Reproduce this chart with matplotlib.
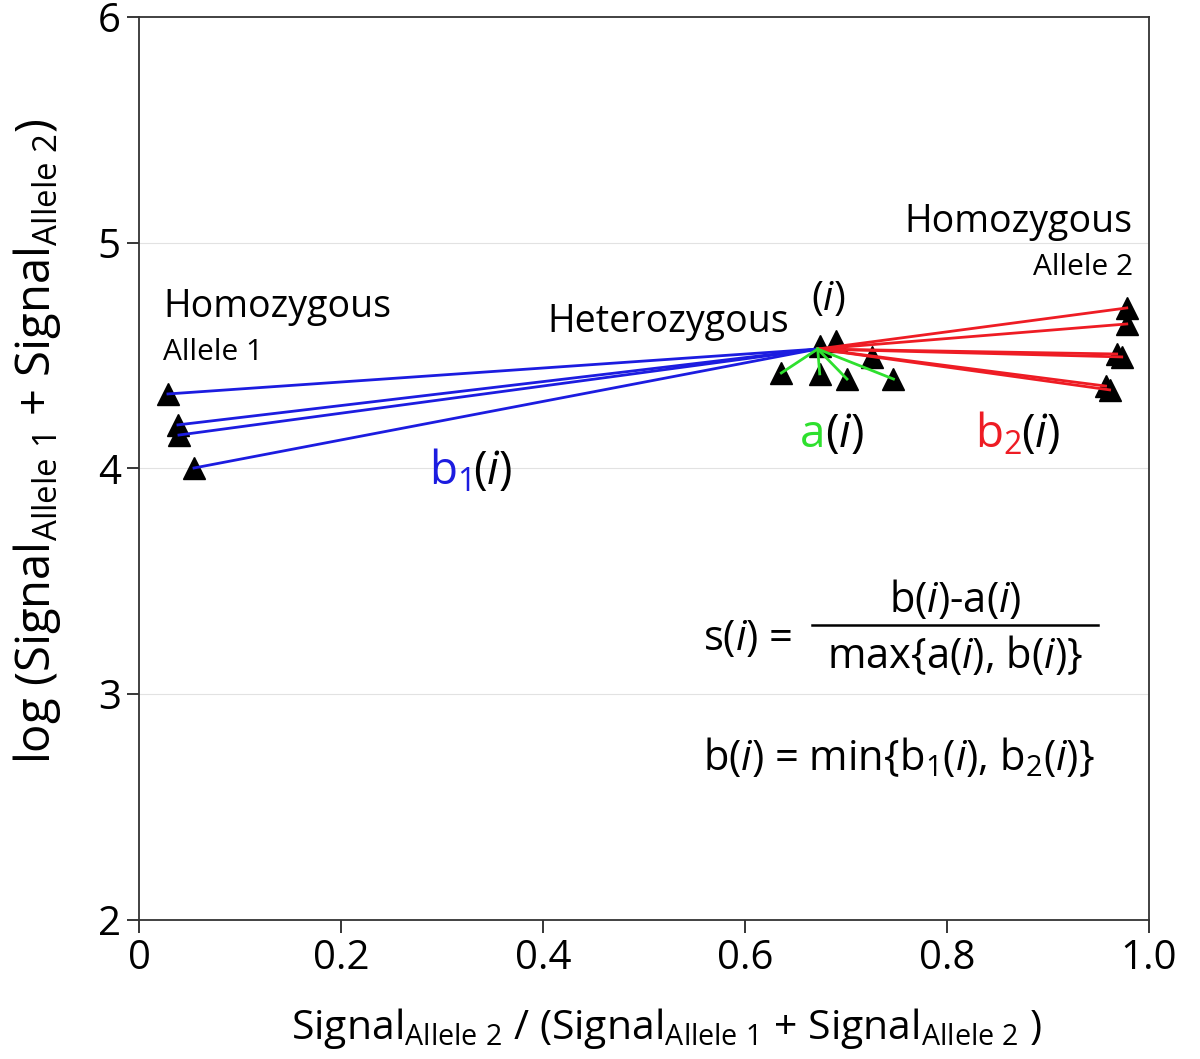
import matplotlib
matplotlib.use('Agg')
import matplotlib.pyplot as plt

# --- font setup ---
plt.rcParams['font.family'] = ['Open Sans', 'DejaVu Sans']
plt.rcParams['mathtext.fontset'] = 'custom'
plt.rcParams['mathtext.rm'] = 'Open Sans'
plt.rcParams['mathtext.it'] = 'Open Sans:italic'

# --- data ---
center = (0.672, 4.529)                      # point (i)

homo1_x = [0.0287, 0.0386, 0.0396, 0.0545]
homo1_y = [4.330, 4.193, 4.148, 4.002]

het_x = [0.636, 0.674, 0.701, 0.747, 0.674, 0.690, 0.726]
het_y = [4.423, 4.419, 4.396, 4.396, 4.543, 4.565, 4.494]
het_linked = [0, 1, 2, 3]                    # points joined to (i) by green lines

homo2_x = [0.978, 0.978, 0.968, 0.973, 0.957, 0.961]
homo2_y = [4.711, 4.640, 4.507, 4.494, 4.365, 4.348]

x_ticks = [0, 0.2, 0.4, 0.6, 0.8, 1.0]
x_tick_labels = ['0', '0.2', '0.4', '0.6', '0.8', '1.0']
y_ticks = [2, 3, 4, 5, 6]
grid_levels = [3, 4, 5]

BLUE = '#1c1ce0'
RED = '#ee1c24'
GREEN = '#2ee02e'

fig = plt.figure(figsize=(12, 10.59), dpi=100)
ax = fig.add_axes([0.1158, 0.1313, 0.8417, 0.8527])

for g in grid_levels:
    ax.axhline(g, color='#e2e2e2', lw=0.8, zorder=0)

# lines from (i) to other points
for x, y in zip(homo1_x, homo1_y):
    ax.plot([center[0], x], [center[1], y], color=BLUE, lw=2.0, zorder=2)
for x, y in zip(homo2_x, homo2_y):
    ax.plot([center[0], x], [center[1], y], color=RED, lw=2.0, zorder=2)
for k in het_linked:
    ax.plot([center[0], het_x[k]], [center[1], het_y[k]], color=GREEN, lw=2.0, zorder=3)

# triangles
ax.plot(homo1_x, homo1_y, '^', color='black', ms=16, zorder=1)
ax.plot(het_x, het_y, '^', color='black', ms=16, zorder=1)
ax.plot(homo2_x, homo2_y, '^', color='black', ms=16, zorder=1)

ax.set_xlim(0, 1.0)
ax.set_ylim(2, 6)
ax.set_xticks(x_ticks)
ax.set_xticklabels(x_tick_labels)
ax.set_yticks(y_ticks)
ax.tick_params(direction='out', length=9, width=1.1, labelsize=29, pad=4)
for sp in ax.spines.values():
    sp.set_linewidth(1.3)
    sp.set_color('#333333')

ax.set_xlabel(r'Signal$_{\mathrm{Allele\ 2}}$ / (Signal$_{\mathrm{Allele\ 1}}$ + Signal$_{\mathrm{Allele\ 2}}$ )',
              fontsize=29.5, labelpad=20)
ax.xaxis.label.set_x(0.523)
ax.set_ylabel(r'log (Signal$_{\mathrm{Allele\ 1}}$ + Signal$_{\mathrm{Allele\ 2}}$)',
              fontsize=34, labelpad=25)
ax.yaxis.label.set_y(0.53)

# cluster labels
ax.text(0.0238, 4.671, 'Homozygous', fontsize=27, va='baseline')
ax.text(0.0238, 4.481, 'Allele 1', fontsize=21.5, va='baseline')
ax.text(0.404, 4.605, 'Heterozygous', fontsize=27, va='baseline')
ax.text(0.682, 4.70, r'($\mathit{i}$)', fontsize=29, va='baseline', ha='center')
ax.text(0.984, 5.048, 'Homozygous', fontsize=27, va='baseline', ha='right')
ax.text(0.984, 4.857, 'Allele 2', fontsize=21.5, va='baseline', ha='right')

# distance labels
ax.text(0.287, 3.931, r'b$_1$', fontsize=33, va='baseline', color=BLUE)
ax.text(0.331, 3.931, r'($\mathit{i}$)', fontsize=33, va='baseline')
ax.text(0.654, 4.095, 'a', fontsize=33, va='baseline', color=GREEN)
ax.text(0.679, 4.095, r'($\mathit{i}$)', fontsize=33, va='baseline')
ax.text(0.828, 4.095, r'b$_2$', fontsize=33, va='baseline', color=RED)
ax.text(0.873, 4.095, r'($\mathit{i}$)', fontsize=33, va='baseline')

# silhouette formulas
ax.text(0.558, 3.196, r's($\mathit{i}$) =', fontsize=30, va='baseline')
ax.text(0.808, 3.364, r'b($\mathit{i}$)-a($\mathit{i}$)', fontsize=30, va='baseline', ha='center')
ax.plot([0.666, 0.950], [3.307, 3.307], color='black', lw=1.8)
ax.text(0.808, 3.116, r'max{a($\mathit{i}$), b($\mathit{i}$)}', fontsize=30, va='baseline', ha='center')
ax.text(0.558, 2.664, r'b($\mathit{i}$) = min{b$_1$($\mathit{i}$), b$_2$($\mathit{i}$)}',
        fontsize=30, va='baseline')

fig.savefig('out.png', dpi=100)
